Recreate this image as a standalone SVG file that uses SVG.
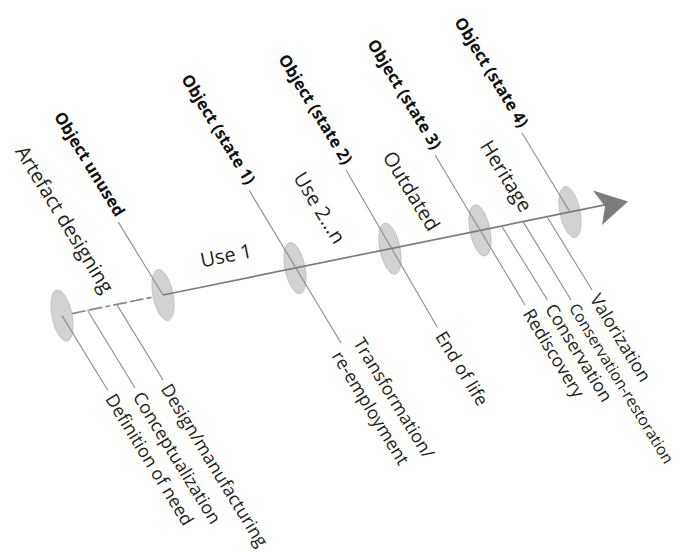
<svg xmlns="http://www.w3.org/2000/svg" width="684" height="555" viewBox="0 0 684 555">
<style>
  .disc { fill: #d2d2d2; stroke: #bcbcbc; stroke-width: 0.8; }
  .axis { stroke: #7c7c7c; stroke-width: 1.7; fill: none; }
  .dash { stroke: #8a8a8a; stroke-width: 1.7; fill: none; stroke-dasharray: 14 3 14 3 5 3; }
  .lead { stroke: #8c8c8c; stroke-width: 1.1; fill: none; }
  .state { font-family: "Open Sans", "Noto Sans", sans-serif; font-weight: bold; font-size: 16.5px; fill: #111; text-anchor: end; }
  .phase { font-family: "Open Sans", "Noto Sans", sans-serif; font-size: 20px; fill: #231f20; text-anchor: middle; dominant-baseline: central; }
  .act { font-family: "Open Sans", "Noto Sans", sans-serif; font-size: 18px; fill: #231f20; text-anchor: start; dominant-baseline: central; }
</style>
<rect width="684" height="555" fill="#ffffff"/>

<g id="node-artefact">
  <ellipse class="disc" cx="62" cy="315.6" rx="10" ry="26" transform="rotate(-11.5 62 315.6)"/>
</g>
<g id="node-unused">
  <ellipse class="disc" cx="163" cy="295" rx="10" ry="26" transform="rotate(-11.5 163 295)"/>
</g>
<g id="node-state1">
  <ellipse class="disc" cx="295" cy="268.1" rx="10" ry="26" transform="rotate(-11.5 295 268.1)"/>
</g>
<g id="node-state2">
  <ellipse class="disc" cx="390" cy="248.7" rx="10" ry="26" transform="rotate(-11.5 390 248.7)"/>
</g>
<g id="node-state3">
  <ellipse class="disc" cx="480" cy="230.4" rx="10" ry="26" transform="rotate(-11.5 480 230.4)"/>
</g>
<g id="node-state4">
  <ellipse class="disc" cx="570" cy="212" rx="10" ry="26" transform="rotate(-11.5 570 212)"/>
</g>

<g id="connectors">
  <line class="dash" x1="72" y1="313.6" x2="153" y2="297"/>
  <line class="axis" x1="163" y1="295" x2="606" y2="204.7"/>
  <polygon points="628,201.5 593,190.5 605,206.5 602,225" fill="#7c7c7c"/>
  <line class="lead" x1="118.3" y1="222.1" x2="163" y2="295"/>
  <line class="lead" x1="249" y1="190" x2="341" y2="343"/>
  <line class="lead" x1="346" y1="170" x2="437.5" y2="327.5"/>
  <line class="lead" x1="435" y1="155" x2="525" y2="305"/>
  <line class="lead" x1="522" y1="133" x2="570" y2="212"/>
  <line class="lead" x1="62" y1="315.6" x2="107.6" y2="390"/>
  <line class="lead" x1="87.5" y1="310.3" x2="135" y2="388"/>
  <line class="lead" x1="116.7" y1="304.4" x2="163" y2="380"/>
  <line class="lead" x1="501.6" y1="226" x2="547.4" y2="300"/>
  <line class="lead" x1="523" y1="221.6" x2="571" y2="300"/>
  <line class="lead" x1="547" y1="216.7" x2="592" y2="290"/>
</g>

<g id="state-labels">
  <text class="state" transform="translate(115.7 217.8) rotate(58.5)">Object unused</text>
  <text class="state" transform="translate(246.4 185.7) rotate(58.5)">Object (state 1)</text>
  <text class="state" transform="translate(343.4 165.7) rotate(58.5)">Object (state 2)</text>
  <text class="state" transform="translate(432.4 150.7) rotate(58.5)">Object (state 3)</text>
  <text class="state" transform="translate(519.4 128.7) rotate(58.5)">Object (state 4)</text>
</g>

<g id="phase-labels">
  <text class="phase" transform="translate(65 219) rotate(58.5)">Artefact designing</text>
  <text class="phase" transform="translate(226 255) rotate(-11.5)">Use 1</text>
  <text class="phase" transform="translate(320 207.5) rotate(58.5)">Use 2…n</text>
  <text class="phase" transform="translate(411.7 190.8) rotate(58.5)">Outdated</text>
  <text class="phase" transform="translate(506.7 175.8) rotate(58.5)">Heritage</text>
</g>

<g id="activity-labels">
  <text class="act" transform="translate(110.7 395.1) rotate(58.5)">Definition of need</text>
  <text class="act" transform="translate(138.1 393.1) rotate(58.5)">Conceptualization</text>
  <text class="act" transform="translate(166.1 385.1) rotate(58.5)">Design/manufacturing</text>
  <text class="act" transform="translate(358.6 339.2) rotate(58.5)">Transformation/</text>
  <text class="act" transform="translate(337.3 352.3) rotate(58.5)">re-employment</text>
  <text class="act" transform="translate(440.6 332.6) rotate(58.5)">End of life</text>
  <text class="act" transform="translate(528.1 310.1) rotate(58.5)">Rediscovery</text>
  <text class="act" transform="translate(550.5 305.1) rotate(58.5)">Conservation</text>
  <text class="act" transform="translate(573.5 304.5) rotate(58.5)" style="font-size:15.8px">Conservation-restoration</text>
  <text class="act" transform="translate(595.1 295.1) rotate(58.5)">Valorization</text>
</g>
</svg>
